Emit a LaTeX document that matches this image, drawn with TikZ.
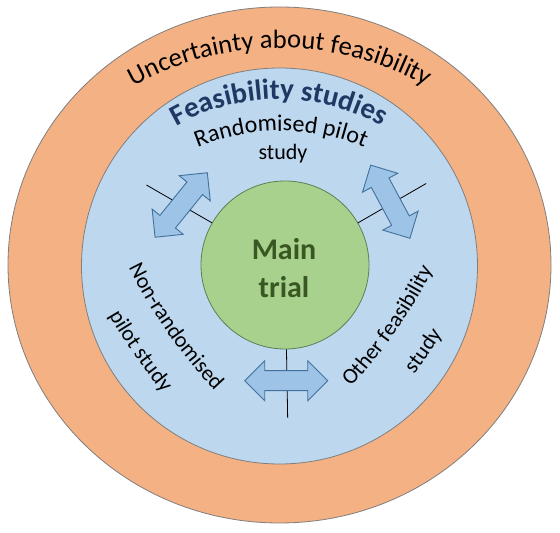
\documentclass[tikz,border=0pt]{standalone}
\usepackage{fontspec}
\setmainfont{Carlito}
\usetikzlibrary{decorations.text,shapes.geometric}
\definecolor{orangefill}{HTML}{F4B183}
\definecolor{bluefill}{HTML}{BDD7EE}
\definecolor{greenfill}{HTML}{A9D18E}
\definecolor{arrowfill}{HTML}{9DC3E6}
\definecolor{arrowline}{HTML}{41719C}
\definecolor{fsblue}{HTML}{203864}
\definecolor{maingreen}{HTML}{385723}
\definecolor{ringline}{HTML}{7F7F7F}
\definecolor{greenline}{HTML}{5E7F55}
\newcommand\fOuter{\fontsize{26.5}{31}\selectfont}
\newcommand\fFeas{\fontsize{29}{34}\selectfont\bfseries}
\newcommand\fLab{\fontsize{22}{27}\selectfont}
\newcommand\fLabTop{\fontsize{24}{29}\selectfont}
\begin{document}
\begin{tikzpicture}[x=1pt,y=1pt,
  ring/.style={draw=ringline,line width=0.8pt,inner sep=0pt},
  divider/.style={draw=black,line width=0.8pt},
  arrowshape/.style={draw=arrowline,fill=arrowfill,line width=0.9pt,line join=miter},
  arctext/.style={decorate,decoration={text along path,text align=center,#1}},
  label/.style={font=\fLab,inner sep=0pt}
]
\useasboundingbox (0,0) rectangle (560,533);
% rings
\node[ring,ellipse,fill=orangefill,minimum width=543pt,minimum height=516pt] (outer) at (279.5,268) {};
\node[ring,circle,fill=bluefill,minimum size=396pt] (feas) at (279.5,267) {};
\node[ring,circle,draw=greenline,fill=greenfill,minimum size=168pt] (main) at (285,268) {};
% main trial text
\node[font=\fontsize{30}{37}\selectfont\bfseries,text=maingreen,anchor=base,inner sep=0pt] (mainA) at (284,273) {Main};
\node[font=\fontsize{30}{37}\selectfont\bfseries,text=maingreen,anchor=base,inner sep=0pt] (mainB) at (284,235) {trial};
% divider lines
\path (main.center) ++(150:160) coordinate (d1);
\path (main.center) ++(30:163) coordinate (d2);
\path (main.center) ++(-89:153) coordinate (d3);
\draw[divider] (main.150) -- (d1);
\draw[divider] (main.30) -- (d2);
\draw[divider] (main.-89) -- (d3);
% double arrows
\begin{scope}[shift={(181.2,328)},rotate=51]
\draw[arrowshape] (-41.5,0) -- (-21.5,20) -- (-21.5,10) -- (21.5,10) -- (21.5,20) -- (41.5,0) -- (21.5,-20) -- (21.5,-10) -- (-21.5,-10) -- (-21.5,-20) -- cycle;
\end{scope}
\begin{scope}[shift={(390.3,331.3)},rotate=-61.8]
\draw[arrowshape] (-41.5,0) -- (-21.5,20) -- (-21.5,10) -- (21.5,10) -- (21.5,20) -- (41.5,0) -- (21.5,-20) -- (21.5,-10) -- (-21.5,-10) -- (-21.5,-20) -- cycle;
\end{scope}
\begin{scope}[shift={(286.2,152.3)}]
\draw[arrowshape] (-41.5,0) -- (-21.5,20) -- (-21.5,10) -- (21.5,10) -- (21.5,20) -- (41.5,0) -- (21.5,-20) -- (21.5,-10) -- (-21.5,-10) -- (-21.5,-20) -- cycle;
\end{scope}
% arc texts
\path[arctext={text={|\fOuter|Uncertainty about feasibility}}]
  ([shift={(125:300)}]280,185) arc[start angle=125,end angle=55,radius=300pt];
\path[arctext={text={|\fFeas|Feasibility studies},text color=fsblue}]
  ([shift={(130:205)}]279,229) arc[start angle=130,end angle=50,radius=205pt];
\path[arctext={text={|\fLabTop|Randomised pilot}}]
  ([shift={(120:220)}]281,182) arc[start angle=120,end angle=60,radius=220pt];
\node[label,anchor=base] (studyTop) at (283,373) {study};
% left labels
\path[arctext={text={|\fLab|Non-randomised}}]
  ([shift={(201:500)}]576.7,487.4) arc[start angle=201,end angle=229,radius=500pt];
\path[arctext={text={|\fLab|pilot study}}]
  ([shift={(205:540)}]576.7,487.4) arc[start angle=205,end angle=225,radius=540pt];
% right labels
\path[arctext={text={|\fLab|Other feasibility}}]
  ([shift={(-49:500)}]-13.7,488.4) arc[start angle=-49,end angle=-21,radius=500pt];
\path[arctext={text={|\fLab|study}}]
  ([shift={(-45:540)}]-13.7,488.4) arc[start angle=-45,end angle=-25,radius=540pt];
\end{tikzpicture}
\end{document}
